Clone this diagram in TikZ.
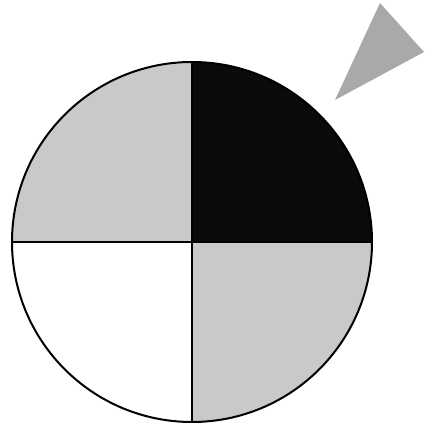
\documentclass[tikz,border=0pt]{standalone}
\usetikzlibrary{calc}
\definecolor{clight}{HTML}{C9C9C9}
\definecolor{cdark}{HTML}{0A0A0A}
\definecolor{cpointer}{HTML}{A9A9A9}
\tikzset{
  every picture/.style={line width=2pt},
  quarter/.style={fill=#1, draw=none},
  quarter/.default=clight,
  rim/.style={draw=black, line width=2pt},
}
\begin{document}
\begin{tikzpicture}[x=1pt, y=1pt]
  \useasboundingbox (0,0) rectangle (424,428);
  \coordinate (C) at (192,186);
  % the four quarters of the disc
  \fill[quarter] (C) -- ++(180,0) arc (0:-90:180) -- cycle;
  \fill[quarter] (C) -- ++(-180,0) arc (180:90:180) -- cycle;
  \fill[quarter=cdark] (C) -- ++(0,180) arc (90:0:180) -- cycle;
  \fill[quarter=white] (C) -- ++(0,-180) arc (270:180:180) -- cycle;
  % cross and rim
  \draw[rim] ($(C)+(-180,0)$) -- ($(C)+(180,0)$);
  \draw[rim] ($(C)+(0,-180)$) -- ($(C)+(0,180)$);
  \draw[rim] (C) circle (180);
  % pointer
  \fill[cpointer] (380,425) -- (424,376) -- (335,328) -- cycle;
\end{tikzpicture}
\end{document}
